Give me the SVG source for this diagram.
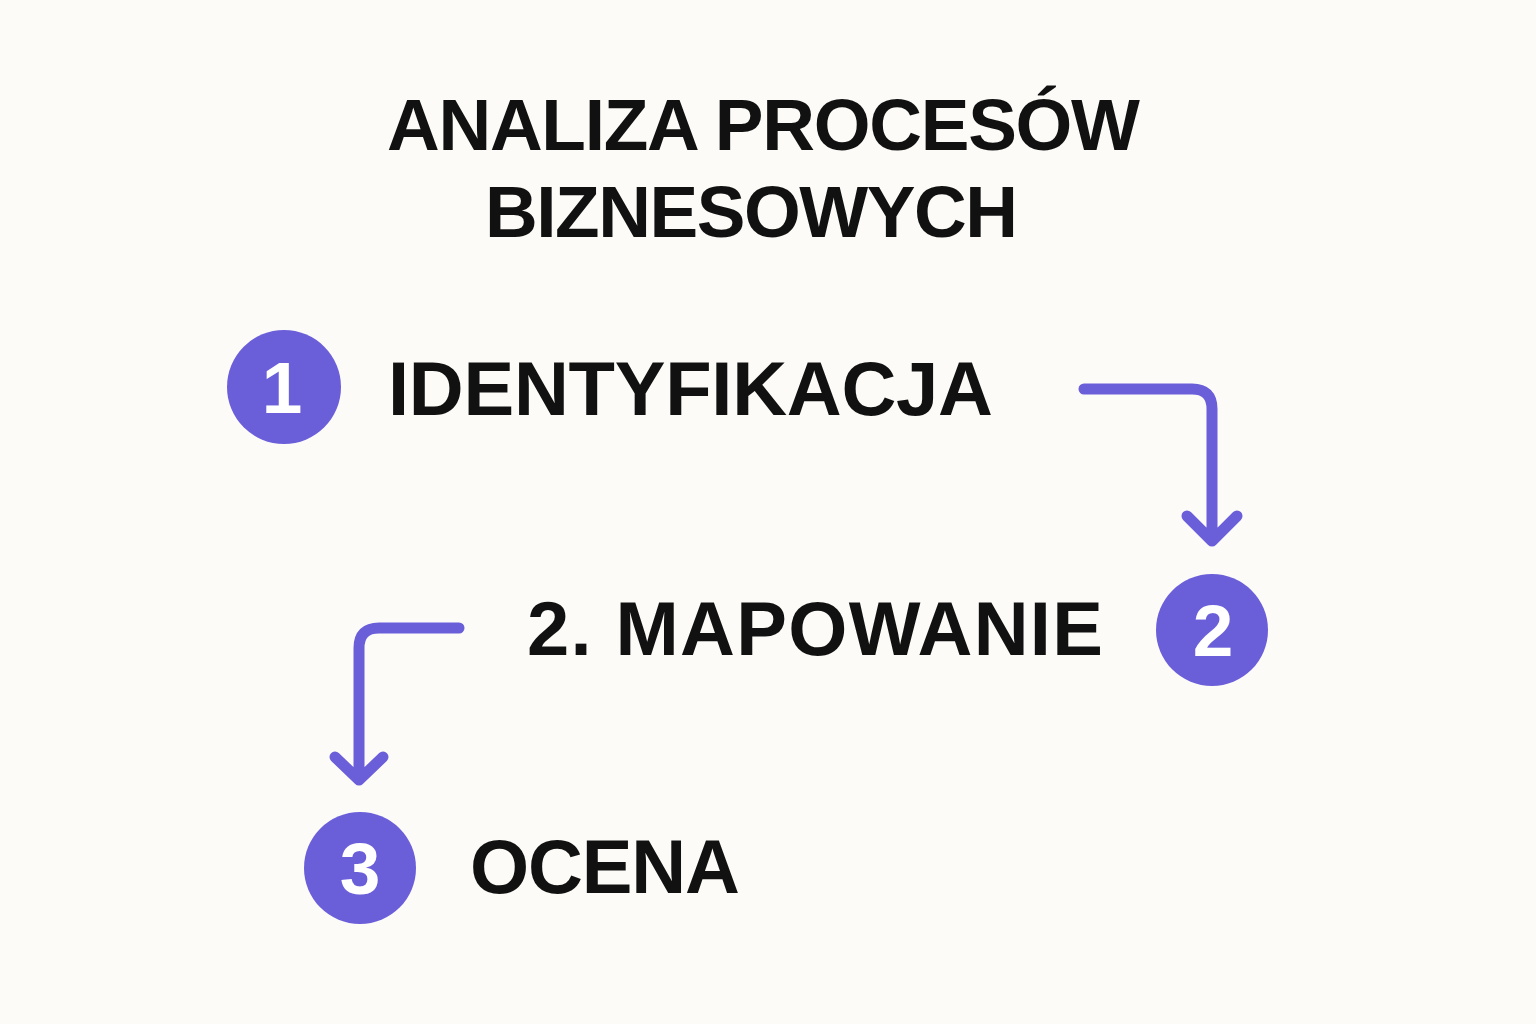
<svg xmlns="http://www.w3.org/2000/svg" width="1536" height="1024" viewBox="0 0 1536 1024">
<style>
.t{font-family:"Liberation Sans",Arial,sans-serif;font-weight:bold;fill:#111111}
.n{font-family:"Liberation Sans",Arial,sans-serif;font-weight:bold;fill:#ffffff;text-anchor:middle}
.c{fill:#6A5ED9}
.a{fill:none;stroke:#6A5ED9;stroke-width:11;stroke-linecap:round;stroke-linejoin:round}
</style>
<rect width="1536" height="1024" fill="#FCFBF8"/>
<g id="title">
<text class="t" x="387" y="150" font-size="73" textLength="753" lengthAdjust="spacing">ANALIZA PROCESÓW</text>
<text class="t" x="485" y="237" font-size="73" textLength="533" lengthAdjust="spacing">BIZNESOWYCH</text>
</g>
<g id="node1">
<circle class="c" cx="284" cy="387" r="57"/>
<text class="n" x="282" y="413" font-size="73">1</text>
<text class="t" x="388" y="415" font-size="76" textLength="605" lengthAdjust="spacing">IDENTYFIKACJA</text>
</g>
<g id="node2">
<circle class="c" cx="1212" cy="630" r="56"/>
<text class="n" x="1213" y="656" font-size="73">2</text>
<text class="t" x="527" y="655" font-size="76" textLength="576" lengthAdjust="spacing">2. MAPOWANIE</text>
</g>
<g id="node3">
<circle class="c" cx="360" cy="868" r="56"/>
<text class="n" x="360" y="894" font-size="73">3</text>
<text class="t" x="470" y="893" font-size="76" textLength="270" lengthAdjust="spacing">OCENA</text>
</g>
<g id="connectors">
<path class="a" d="M1084 389 H1192 Q1212 389 1212 409 V541 M1187 516 L1212 541 L1237 516"/>
<path class="a" d="M459 628 H379 Q359 628 359 648 V780 M335 757 L359 780 L383 757"/>
</g>
</svg>
